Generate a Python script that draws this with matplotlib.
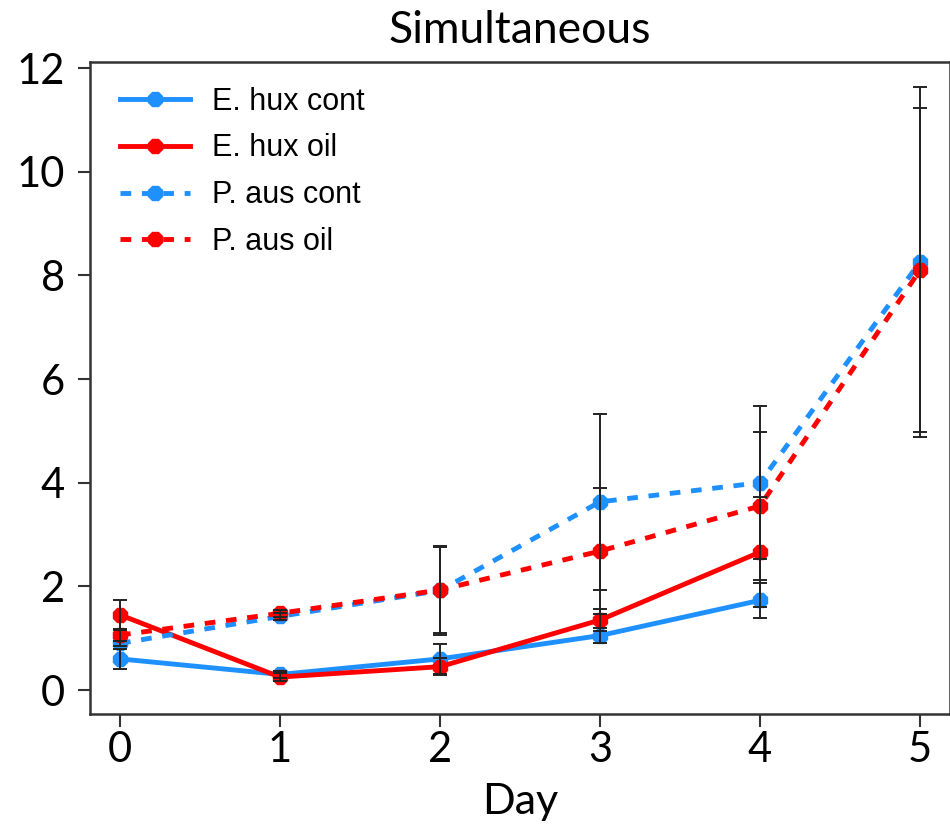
import matplotlib
matplotlib.use("Agg")
import matplotlib.pyplot as plt

days = [0, 1, 2, 3, 4, 5]

ehux_cont = [0.60, 0.30, 0.60, 1.05, 1.73, None]
ehux_cont_err = [0.20, 0.07, 0.29, 0.14, 0.34, None]
ehux_oil = [1.45, 0.25, 0.45, 1.35, 2.66, None]
ehux_oil_err = [0.29, 0.07, 0.17, 0.21, 1.06, None]
paus_cont = [0.90, 1.42, 1.92, 3.63, 4.00, 8.26]
paus_cont_err = [0.05, 0.07, 0.85, 1.70, 1.48, 3.38]
paus_oil = [1.06, 1.48, 1.93, 2.68, 3.55, 8.10]
paus_oil_err = [0.12, 0.07, 0.83, 1.22, 1.43, 3.13]

labels = ["E. hux cont", "E. hux oil", "P. aus cont", "P. aus oil"]
title = "Simultaneous"
xlabel = "Day"

blue = "#1E90FF"
red = "#FF0000"

fig = plt.figure(figsize=(9.5, 8.24), dpi=100)
ax = fig.add_axes([90/950, 1-714/824, 1-90/950, (714-62)/824])

def clean(xs, ys, es):
    out = [(x, y, e) for x, y, e in zip(xs, ys, es) if y is not None]
    return [o[0] for o in out], [o[1] for o in out], [o[2] for o in out]

series = [
    (ehux_cont, ehux_cont_err, blue, "-"),
    (ehux_oil, ehux_oil_err, red, "-"),
    (paus_cont, paus_cont_err, blue, (0, (2.2, 2.2))),
    (paus_oil, paus_oil_err, red, (0, (2.2, 2.2))),
]
handles = []
for (ys, es, c, ls), lab in zip(series, labels):
    x, y, e = clean(days, ys, es)
    h, = ax.plot(x, y, color=c, linestyle=ls, linewidth=3.5, marker="8",
                 markersize=11, label=lab, zorder=3)
    ax.errorbar(x, y, yerr=e, fmt="none", ecolor="#222222", elinewidth=1.4,
                capsize=5, capthick=1.4, zorder=4)
    handles.append(h)

ax.set_xlim(-0.1875, 5.1875)
ax.set_ylim(-0.463, 12.116)
ax.set_xticks(days)
ax.set_yticks([0, 2, 4, 6, 8, 10, 12])
ax.tick_params(axis="both", direction="out", length=9, width=1.5,
               labelsize=30, color="#333333", pad=3)
ax.tick_params(axis="y", pad=9)
for lab in ax.get_xticklabels() + ax.get_yticklabels():
    lab.set_fontfamily("Lato")
for s in ax.spines.values():
    s.set_linewidth(1.8)
    s.set_color("#333333")

ax.set_title(title, fontsize=32, fontfamily="Lato", pad=14)
ax.set_xlabel(xlabel, fontsize=31, fontfamily="Lato", labelpad=10)

leg = ax.legend(handles=handles, loc="upper left", bbox_to_anchor=(0.01, 0.995),
                frameon=False, prop={"family": "Liberation Sans", "size": 22},
                handlelength=2.3, handletextpad=0.7, labelspacing=0.55,
                borderaxespad=0.3)

fig.savefig("out.png", dpi=100)
